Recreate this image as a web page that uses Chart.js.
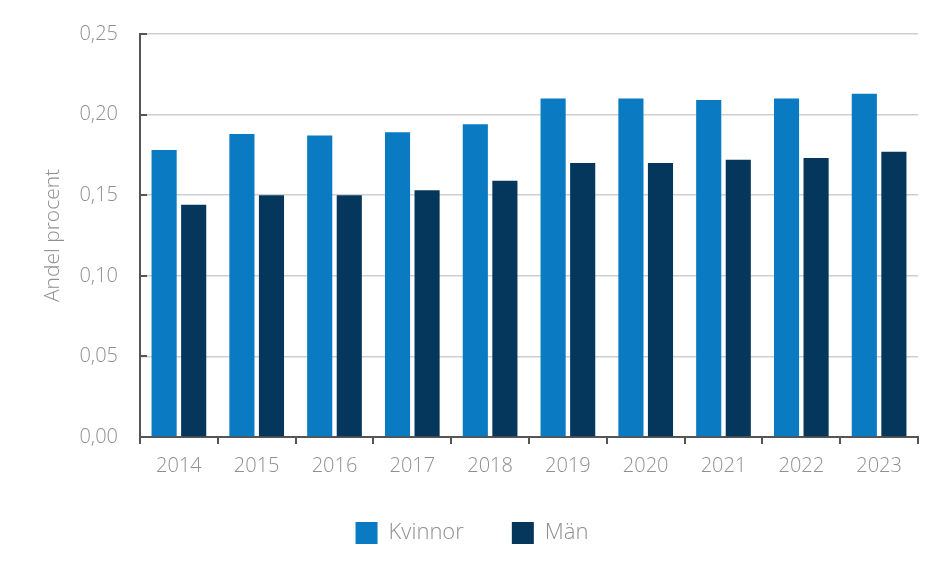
<!DOCTYPE html>
<html>
<head>
<meta charset="utf-8">
<script src="https://cdn.jsdelivr.net/npm/chart.js@4"></script>
<style>
  html, body { margin: 0; padding: 0; background: #fff; }
  #wrap { position: relative; width: 929px; height: 563px; }
</style>
</head>
<body>
<div id="wrap"><canvas id="chart" width="929" height="563"></canvas></div>
<script>
const years = ["2014", "2015", "2016", "2017", "2018", "2019", "2020", "2021", "2022", "2023"];
const kvinnor = [0.178, 0.188, 0.187, 0.189, 0.194, 0.210, 0.210, 0.209, 0.210, 0.213];
const man = [0.144, 0.150, 0.150, 0.153, 0.159, 0.170, 0.170, 0.172, 0.173, 0.177];

const FONT = "'Open Sans', sans-serif";
const TEXT = "#8f8f8f";
const AXIS = "#555";

// short tick marks pointing into the plot on the y axis
const yTickMarks = {
  id: "yTickMarks",
  afterDatasetsDraw(chart) {
    const { ctx, scales: { y } } = chart;
    ctx.save();
    ctx.strokeStyle = AXIS;
    ctx.lineWidth = 2;
    y.ticks.forEach(t => {
      const py = Math.round(y.getPixelForValue(t.value));
      ctx.beginPath();
      ctx.moveTo(y.right - 1, py);
      ctx.lineTo(y.right + 7, py);
      ctx.stroke();
    });
    ctx.restore();
  }
};

new Chart(document.getElementById("chart"), {
  type: "bar",
  data: {
    labels: years,
    datasets: [
      { label: "Kvinnor", data: kvinnor, backgroundColor: "#0a7bc2" },
      { label: "Män", data: man, backgroundColor: "#04375b" },
    ],
  },
  options: {
    responsive: false,
    animation: false,
    devicePixelRatio: 1,
    categoryPercentage: 0.76,
    barPercentage: 0.85,
    layout: { padding: { top: 33, right: 11, left: 26, bottom: 9 } },
    plugins: {
      legend: {
        position: "bottom",
        labels: {
          boxWidth: 22,
          boxHeight: 22,
          padding: 48,
          color: TEXT,
          font: { family: FONT, size: 22, weight: 300 },
        },
      },
      tooltip: { enabled: false },
    },
    scales: {
      x: {
        grid: {
          drawOnChartArea: false,
          drawTicks: true,
          tickLength: 7,
          color: AXIS,
          lineWidth: 2,
        },
        border: { color: AXIS, width: 2 },
        ticks: {
          color: TEXT,
          padding: 10,
          maxRotation: 0,
          font: { family: FONT, size: 20, weight: 300 },
        },
        afterFit: (s) => { s.height = 37; },
      },
      y: {
        min: 0,
        max: 0.25,
        ticks: {
          stepSize: 0.05,
          color: TEXT,
          padding: 22,
          font: { family: FONT, size: 20, weight: 300 },
          callback: (v) => v.toFixed(2).replace(".", ","),
        },
        grid: { color: "#cfcfcf", lineWidth: 1.5, drawTicks: false },
        border: { color: AXIS, width: 2 },
        title: {
          display: true,
          text: "Andel procent",
          color: TEXT,
          padding: { top: 14, bottom: 0 },
          font: { family: FONT, size: 21, weight: 300 },
        },
        afterFit: (s) => { s.width = 114; },
      },
    },
  },
  plugins: [yTickMarks],
});
</script>
</body>
</html>
